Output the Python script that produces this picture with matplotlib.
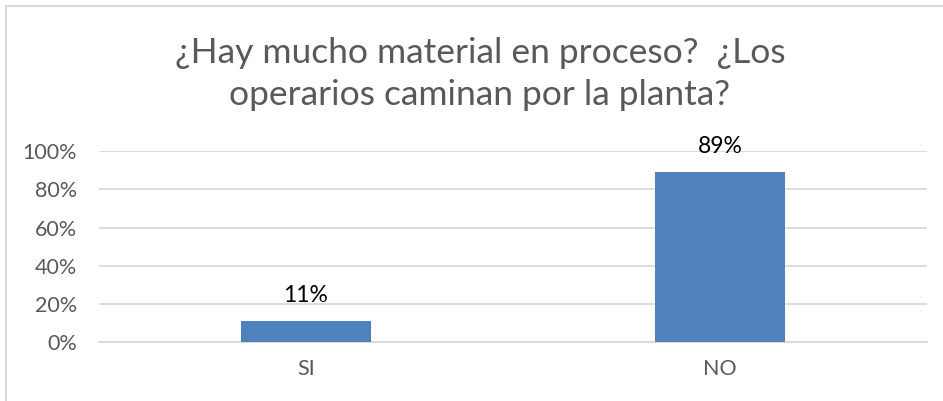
import matplotlib.pyplot as plt
from matplotlib.patches import Rectangle
from matplotlib.ticker import PercentFormatter

# respuestas de la encuesta
categorias = ['SI', 'NO']
porcentajes = [0.11, 0.89]
etiquetas = ['11%', '89%']

plt.rcParams['font.family'] = ['Lato', 'DejaVu Sans']

fig = plt.figure(figsize=(9.43, 4.01), dpi=100)
ax = fig.add_axes([0.105, 0.147, 0.878, 0.476])

# marco del grafico (solo se ven los bordes izquierdo y superior)
fig.patches.append(Rectangle((6 / 943, -0.1), 1.2, 1 - 6 / 401 + 0.1,
                             transform=fig.transFigure, fill=False,
                             edgecolor='#D9D9D9', linewidth=1.5))

x = range(len(categorias))
ax.bar(x, porcentajes, width=0.314, color='#4F81BD', zorder=3)

for xi, v, txt in zip(x, porcentajes, etiquetas):
    ax.annotate(txt, (xi, v), xytext=(0, 11), textcoords='offset points',
                ha='center', va='bottom', fontsize=16.5, color='black')

ax.set_xlim(-0.5, 1.5)
ax.set_ylim(0, 1.0)
ax.set_yticks([0, 0.2, 0.4, 0.6, 0.8, 1.0])
ax.yaxis.set_major_formatter(PercentFormatter(1.0, decimals=0))
ax.set_xticks(list(x))
ax.set_xticklabels(categorias)

ax.grid(axis='y', color='#D9D9D9', linewidth=1.3, zorder=0)
for s in ['top', 'right', 'left']:
    ax.spines[s].set_visible(False)
ax.spines['bottom'].set_color('#D9D9D9')
ax.spines['bottom'].set_linewidth(1.3)
ax.tick_params(axis='both', length=0, labelsize=15.5, colors='#595959')
ax.tick_params(axis='y', pad=16)
ax.tick_params(axis='x', pad=12)

fig.text(0.509, 0.815, '¿Hay mucho material en proceso?  ¿Los\noperarios caminan por la planta?',
         ha='center', va='center', fontsize=25.5, color='#595959', linespacing=1.4)

fig.savefig('out.png', dpi=100)
